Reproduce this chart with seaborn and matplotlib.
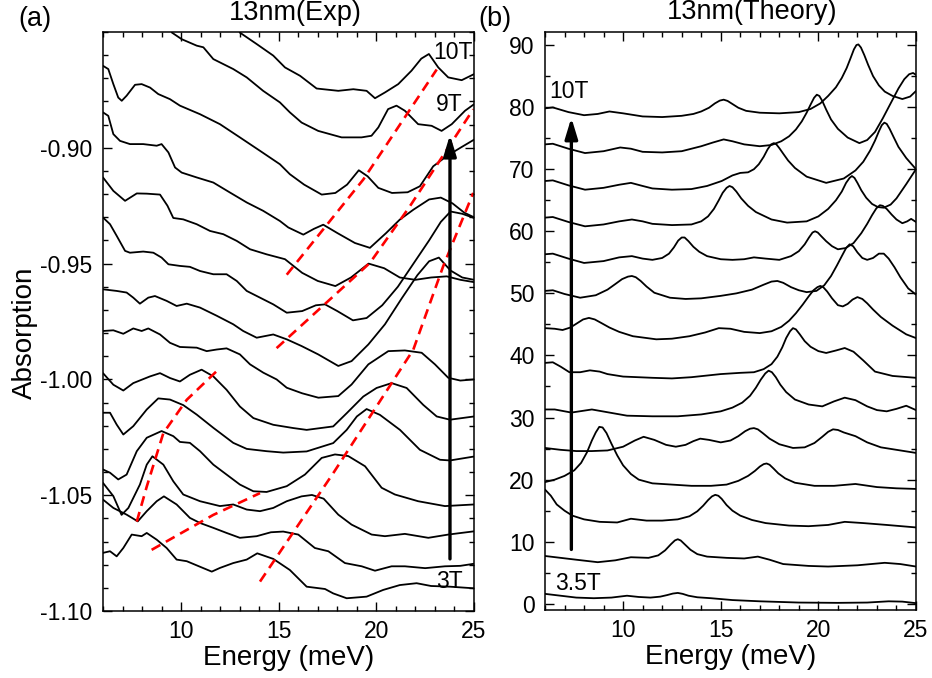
import matplotlib
matplotlib.use("Agg")
import matplotlib.pyplot as plt
import seaborn as sns
import pandas as pd
from matplotlib.ticker import MultipleLocator, FormatStrFormatter

sns.set_theme(style="ticks")
plt.rcParams['font.family'] = ['Liberation Sans', 'DejaVu Sans']
plt.rcParams['axes.unicode_minus'] = False
for k in ('text.color', 'axes.labelcolor', 'xtick.color', 'ytick.color', 'axes.edgecolor'):
    plt.rcParams[k] = 'black'

# ---------------- Panel (a): experimental absorption, (energy meV, absorption) ----------------
exp_3T = [(6.0, -1.0749), (6.36, -1.0742), (6.7, -1.0764), (7.04, -1.0728), (7.47, -1.067), (7.98, -1.0677),
          (8.24, -1.0663), (8.75, -1.0692), (9.26, -1.0728), (9.77, -1.0778), (10.29, -1.0785), (10.97, -1.0809),
          (11.57, -1.083), (11.99, -1.0814), (12.67, -1.0793), (13.36, -1.0778), (13.9, -1.0751), (14.72, -1.0775),
          (15.57, -1.0823), (16.43, -1.0895), (17.37, -1.0905), (17.79, -1.0924), (18.48, -1.0945), (19.5, -1.0938),
          (20.35, -1.0909), (21.2, -1.0888), (22.06, -1.088), (22.8, -1.0892), (23.77, -1.0895), (25.0, -1.0902)]
exp_3p5T = [(6.0, -1.0519), (6.53, -1.0555), (7.21, -1.0584), (7.78, -1.0613), (8.24, -1.0569), (8.75, -1.0526),
            (9.12, -1.0505), (9.77, -1.054), (10.45, -1.0598), (10.97, -1.062), (11.65, -1.0641), (12.33, -1.0663),
            (13.01, -1.0684), (13.87, -1.0677), (14.6, -1.066), (15.23, -1.0657), (16.0, -1.067), (16.85, -1.0728),
            (17.54, -1.0742), (18.39, -1.0793), (19.25, -1.0807), (19.93, -1.0826), (20.78, -1.0807),
            (21.46, -1.0807), (22.5, -1.0815), (23.51, -1.0807), (24.3, -1.0805), (25.0, -1.0796)]
exp_4T = [(6.0, -1.0447), (6.53, -1.0504), (6.95, -1.0585), (7.3, -1.0555), (7.89, -1.0454), (8.24, -1.0368),
          (8.53, -1.0332), (9.09, -1.0368), (9.6, -1.044), (10.11, -1.0497), (10.97, -1.0526), (11.99, -1.0547),
          (12.67, -1.054), (13.36, -1.0562), (14.04, -1.0569), (14.72, -1.0555), (15.41, -1.0526), (16.17, -1.0505),
          (16.7, -1.0499), (17.3, -1.0515), (18.05, -1.0584), (18.73, -1.0627), (19.76, -1.067), (20.44, -1.0677),
          (21.46, -1.0667), (22.66, -1.0684), (23.68, -1.067), (25.0, -1.0656)]
exp_4p5T = [(6.0, -1.0389), (6.36, -1.0403), (6.78, -1.0432), (7.21, -1.0411), (7.73, -1.031), (8.24, -1.0252),
            (9.0, -1.0223), (9.6, -1.0245), (9.94, -1.027), (10.45, -1.0274), (10.97, -1.031), (11.65, -1.0368),
            (12.33, -1.0411), (13.01, -1.0454), (13.7, -1.0483), (14.38, -1.0486), (15.41, -1.0461),
            (16.34, -1.0411), (17.2, -1.0339), (17.88, -1.0324), (18.56, -1.0331), (19.42, -1.0375),
            (20.27, -1.0468), (20.95, -1.0497), (22.14, -1.0526), (23.51, -1.0547), (25.0, -1.054)]
exp_5T = [(6.0, -1.0144), (6.36, -1.0144), (6.7, -1.0195), (7.04, -1.0238), (7.55, -1.0202), (8.24, -1.013),
          (8.83, -1.0082), (9.43, -1.0087), (10.11, -1.0111), (10.8, -1.0152), (11.65, -1.0209), (12.67, -1.0274),
          (13.36, -1.0300), (14.38, -1.031), (15.23, -1.0316), (16.43, -1.0311), (17.79, -1.0275),
          (18.48, -1.0218), (19.0, -1.0160), (19.5, -1.0128), (20.18, -1.0153), (21.21, -1.0218),
          (22.23, -1.0304), (23.26, -1.0347), (23.77, -1.035), (25.0, -1.0333)]
exp_5p5T = [(6.0, -0.9973), (6.53, -1.0023), (7.04, -1.0048), (7.55, -1.0016), (8.41, -0.9987), (8.92, -0.9973),
            (9.43, -0.9994), (9.94, -1.0009), (10.45, -0.998), (11.05, -0.9958), (11.65, -0.9987),
            (12.33, -1.0045), (13.01, -1.0117), (13.7, -1.0167), (14.72, -1.0196), (15.74, -1.021),
            (16.43, -1.0218), (17.79, -1.0203), (18.48, -1.0146), (19.33, -1.0074), (20.01, -1.0037),
            (20.78, -1.0016), (21.55, -1.0037), (22.4, -1.011), (23.09, -1.016), (23.77, -1.0174), (25.0, -1.016)]
exp_6T = [(6.0, -0.9791), (6.53, -0.9788), (7.04, -0.9803), (7.55, -0.978), (7.98, -0.9791), (8.32, -0.978),
          (8.92, -0.9806), (9.43, -0.9842), (9.94, -0.986), (10.8, -0.9863), (11.31, -0.9878), (11.82, -0.9871),
          (12.33, -0.9866), (13.01, -0.9892), (13.53, -0.9935), (14.21, -0.9971), (14.89, -1.0), (15.41, -1.0036),
          (16.2, -1.006), (17.03, -1.0079), (18.05, -1.0072), (18.73, -1.0022), (19.59, -0.9935),
          (20.61, -0.9878), (21.46, -0.9875), (22.32, -0.9885), (23.0, -0.9935), (23.68, -0.9993),
          (24.3, -1.0005), (25.0, -1.0)]
exp_6p5T = [(6.0, -0.9611), (6.7, -0.9618), (7.21, -0.9625), (7.55, -0.9647), (7.89, -0.9673), (8.32, -0.9647),
            (8.66, -0.964), (9.26, -0.9661), (9.77, -0.9683), (10.29, -0.9673), (10.97, -0.969), (11.82, -0.9725),
            (12.67, -0.9762), (13.18, -0.9791), (13.87, -0.982), (14.72, -0.9806), (15.41, -0.9827),
            (16.17, -0.9856), (17.02, -0.9892), (18.05, -0.9942), (18.73, -0.9921), (19.59, -0.9849),
            (20.44, -0.9762), (21.3, -0.9650), (22.1, -0.9550), (22.7, -0.9490), (23.2, -0.9474),
            (23.8, -0.9530), (24.4, -0.9560), (25.0, -0.9570)]
exp_7T = [(6.0, -0.9301), (6.36, -0.933), (6.7, -0.938), (7.13, -0.9445), (7.38, -0.9453), (8.06, -0.9448),
          (8.58, -0.9453), (9.0, -0.9474), (9.35, -0.9503), (9.94, -0.951), (10.45, -0.9514), (10.97, -0.9532),
          (11.65, -0.9546), (12.33, -0.9546), (12.85, -0.9575), (13.36, -0.9618), (14.04, -0.9647),
          (14.72, -0.9676), (15.41, -0.9712), (16.2, -0.9705), (16.9, -0.9680), (17.37, -0.9676),
          (18.0, -0.9705), (18.8, -0.9745), (19.5, -0.9735), (20.3, -0.9680), (21.1, -0.9600),
          (21.9, -0.9500), (22.7, -0.9400), (23.3, -0.9320), (23.8, -0.9275), (24.4, -0.9285),
          (25.0, -0.9303)]
exp_7p5T = [(6.0, -0.9128), (6.53, -0.9186), (7.13, -0.9229), (7.73, -0.9197), (8.24, -0.9198), (8.92, -0.9202),
            (9.3, -0.9250), (9.6, -0.9303), (10.11, -0.9309), (10.8, -0.933), (11.48, -0.9359), (12.16, -0.9373),
            (12.85, -0.9402), (13.53, -0.9438), (14.38, -0.946), (15.32, -0.9481), (16.2, -0.9540),
            (17.0, -0.9575), (17.9, -0.9597), (18.7, -0.9560), (19.6, -0.9500), (20.4, -0.9520),
            (21.2, -0.9560), (22.0, -0.9570), (22.8, -0.9560), (23.6, -0.9555), (24.3, -0.9570),
            (25.0, -0.9580)]
exp_8T = [(6.0, -0.8847), (6.27, -0.8862), (6.53, -0.8941), (6.87, -0.897), (7.38, -0.8984), (8.06, -0.8984),
          (8.75, -0.8991), (9.0, -0.8984), (9.35, -0.902), (9.69, -0.9085), (10.03, -0.9107), (10.8, -0.9128),
          (11.65, -0.915), (12.5, -0.9193), (13.36, -0.9236), (14.2, -0.9272), (15.06, -0.9316),
          (15.49, -0.9344), (16.26, -0.9375), (16.8, -0.9350), (17.28, -0.9332), (18.0, -0.9368),
          (18.9, -0.9411), (19.67, -0.9432), (20.5, -0.9368), (21.2, -0.9310), (21.9, -0.9267),
          (22.7, -0.9223), (23.3, -0.9215), (23.9, -0.9240), (24.5, -0.9280), (25.0, -0.9300)]
exp_8p5T = [(6.0, -0.8646), (6.27, -0.866), (6.53, -0.8725), (6.78, -0.8783), (6.96, -0.8797), (7.21, -0.8775),
            (7.64, -0.8728), (7.98, -0.8725), (8.41, -0.874), (8.83, -0.8768), (9.43, -0.879), (9.94, -0.8818),
            (10.97, -0.8855), (11.99, -0.8898), (13.01, -0.8955), (14.04, -0.9013), (15.06, -0.9071),
            (15.57, -0.9114), (16.3, -0.9159), (17.2, -0.9202), (17.9, -0.9195), (18.5, -0.9159),
            (19.1, -0.9097), (19.55, -0.9123), (20.1, -0.9173), (20.8, -0.9195), (21.6, -0.9192),
            (22.23, -0.9166), (22.91, -0.9080), (23.6, -0.9036), (24.3, -0.9000), (25.0, -0.8965)]
exp_9T = [(9.52, -0.8502), (10.03, -0.8531), (10.8, -0.8559), (11.14, -0.8566), (11.65, -0.8617),
          (12.67, -0.866), (13.36, -0.8696), (14.2, -0.8754), (15.06, -0.8804), (15.57, -0.8847),
          (16.17, -0.8891), (17.02, -0.8927), (18.22, -0.8955), (19.24, -0.8955), (19.75, -0.8948),
          (20.1, -0.8912), (20.6, -0.8833), (21.03, -0.8818), (21.46, -0.884), (22.14, -0.8898),
          (22.83, -0.8905), (23.34, -0.8927), (23.86, -0.8898), (24.54, -0.884), (25.0, -0.8812)]
exp_10T = [(13.0, -0.8502), (13.87, -0.8552), (14.72, -0.8602), (15.32, -0.8653), (16.09, -0.8689),
           (16.94, -0.8744), (18.05, -0.8754), (18.82, -0.8747), (19.5, -0.8754), (19.93, -0.8786),
           (20.44, -0.8761), (21.12, -0.8725), (21.8, -0.8667), (22.3, -0.8615), (22.69, -0.8595),
           (23.17, -0.8653), (23.68, -0.8696), (24.37, -0.8708), (25.0, -0.8682)]
exp_curves = [exp_3T, exp_3p5T, exp_4T, exp_4p5T, exp_5T, exp_5p5T, exp_6T, exp_6p5T,
              exp_7T, exp_7p5T, exp_8T, exp_8p5T, exp_9T, exp_10T]

# red dashed guide lines in panel (a)
guide_1 = [(15.41, -0.9548), (19.33, -0.9137), (23.09, -0.8662)]
guide_2 = [(14.89, -0.9865), (19.67, -0.9497), (21.72, -0.9252), (24.96, -0.8834)]
guide_3 = [(14.04, -1.0873), (17.79, -1.0405), (21.89, -0.9872), (23.42, -0.9512), (24.96, -0.9195)]
guide_4 = [(8.49, -1.0736), (11.65, -1.0585), (14.04, -1.0491)]
guide_5 = [(7.73, -1.0614), (8.24, -1.0463), (9.09, -1.0232), (10.29, -1.0088), (11.9, -0.9958)]
guides = [guide_1, guide_2, guide_3, guide_4, guide_5]

# ---------------- Panel (b): theory, energy (meV) and absorption (arb.) ----------------
th_3p5T_E = [6.0, 6.8, 7.6, 8.5, 9.4, 10.2, 10.8, 11.4, 11.9, 12.25, 12.55, 12.8, 13.05, 13.35, 13.8, 14.5,
             15.6, 17.0, 19.0, 21.0, 22.5, 23.6, 24.3, 25.0]
th_3p5T_V = [1.6, 1.3, 1.0, 0.9, 1.0, 1.3, 1.1, 1.0, 1.15, 1.4, 1.65, 1.75, 1.6, 1.3, 1.05, 0.9, 0.6, 0.4, 0.2,
             0.15, 0.2, 0.4, 0.35, 0.1]
th_4T_E = [6.0, 6.8, 7.6, 8.7, 9.6, 10.4, 11.3, 11.8, 12.15, 12.45, 12.65, 12.8, 12.95, 13.15, 13.45, 13.8,
           14.3, 15.3, 16.2, 16.9, 17.5, 18.2, 19.5, 20.5, 22.0, 23.4, 24.2, 25.0]
th_4T_V = [7.7, 7.4, 7.1, 6.7, 7.0, 7.5, 7.4, 7.8, 8.6, 9.6, 10.2, 10.4, 10.2, 9.6, 8.7, 8.0, 7.6, 7.4, 7.3,
           7.6, 7.1, 6.4, 6.1, 6.0, 6.2, 6.6, 6.4, 6.0]
th_4p5T_E = [6.0, 6.3, 6.6, 7.0, 7.4, 8.0, 8.8, 9.7, 10.4, 11.2, 12.0, 12.8, 13.4, 13.8, 14.1, 14.35, 14.55,
             14.72, 14.88, 15.05, 15.3, 15.6, 16.0, 16.6, 17.3, 18.5, 19.5, 20.5, 21.35, 22.3, 23.5, 25.0]
th_4p5T_V = [18.4, 17.4, 16.0, 15.0, 14.2, 13.6, 13.2, 13.1, 13.7, 13.4, 13.4, 13.6, 14.1, 14.9, 15.8, 16.7,
             17.3, 17.55, 17.4, 16.9, 15.9, 15.0, 14.2, 13.5, 13.0, 12.6, 12.5, 12.7, 13.2, 13.0, 12.7, 12.3]
th_5T_E = [6.0, 6.5, 7.0, 7.5, 7.85, 8.15, 8.4, 8.6, 8.78, 8.95, 9.15, 9.4, 9.7, 10.0, 10.4, 10.8, 11.5, 12.5,
           13.5, 14.5, 15.3, 15.9, 16.4, 16.75, 17.0, 17.2, 17.35, 17.5, 17.7, 17.95, 18.3, 18.8, 19.8, 20.8,
           21.9, 23.0, 24.0, 25.0]
th_5T_V = [19.6, 20.0, 20.6, 21.5, 22.7, 24.4, 26.3, 27.6, 28.5, 28.4, 27.5, 25.8, 23.9, 22.3, 20.9, 20.0,
           19.4, 19.2, 19.0, 19.0, 19.2, 19.8, 20.6, 21.4, 22.1, 22.5, 22.6, 22.4, 21.8, 21.0, 20.2, 19.5,
           19.0, 19.0, 19.3, 18.8, 18.6, 18.5]
th_5p5T_E = [6.0, 6.8, 7.6, 8.4, 9.2, 10.0, 10.6, 11.05, 11.6, 12.2, 12.7, 13.2, 13.6, 13.95, 14.4, 15.0, 15.5,
             15.9, 16.25, 16.5, 16.7, 16.9, 17.15, 17.5, 18.0, 18.7, 19.3, 19.8, 20.2, 20.5, 20.75, 21.0, 21.3,
             21.6, 21.9, 22.5, 23.2, 24.0, 25.0]
th_5p5T_V = [25.1, 24.8, 24.6, 24.6, 24.7, 25.3, 26.3, 26.9, 26.4, 25.6, 25.3, 25.6, 26.2, 26.6, 26.4, 26.0,
             26.3, 27.0, 27.8, 28.2, 28.3, 28.1, 27.5, 26.6, 25.7, 25.1, 25.2, 25.9, 26.9, 27.7, 28.1, 28.0,
             27.6, 27.3, 27.0, 26.0, 25.2, 24.8, 24.3]
th_6T_E = [6.0, 6.5, 7.35, 8.4, 9.3, 10.2, 11.5, 12.8, 14.0, 15.0, 15.6, 16.1, 16.5, 16.8, 17.05, 17.28, 17.45,
           17.62, 17.82, 18.05, 18.35, 18.8, 19.5, 20.2, 20.8, 21.35, 21.9, 22.5, 23.0, 23.5, 24.0, 24.5, 25.0]
th_6T_V = [31.3, 31.3, 30.8, 31.3, 30.8, 30.3, 30.2, 30.2, 30.5, 31.0, 31.6, 32.4, 33.5, 34.8, 36.1, 37.1,
           37.55, 37.3, 36.5, 35.3, 34.1, 32.9, 32.1, 31.8, 32.6, 33.2, 32.8, 31.8, 31.2, 31.0, 31.4, 31.9, 31.2]
th_6p5T_E = [6.0, 6.4, 6.8, 7.25, 7.8, 8.3, 8.8, 9.2, 10.0, 11.5, 12.5, 13.5, 15.0, 16.0, 16.7, 17.2, 17.6,
             17.9, 18.15, 18.35, 18.55, 18.7, 18.85, 19.05, 19.3, 19.6, 20.0, 20.4, 20.9, 21.35, 21.8, 22.3,
             22.9, 23.8, 25.0]
th_6p5T_V = [38.8, 38.9, 38.2, 37.3, 37.3, 37.6, 37.4, 37.0, 36.6, 36.4, 36.3, 36.5, 37.0, 37.2, 37.3, 37.8,
             38.6, 39.8, 41.3, 42.8, 43.9, 44.4, 44.2, 43.4, 42.3, 41.4, 40.7, 40.4, 40.8, 41.2, 40.6, 39.2,
             37.4, 36.7, 36.4]
th_7T_E = [6.0, 6.5, 6.9, 7.3, 7.65, 7.95, 8.25, 8.55, 8.9, 9.3, 9.8, 10.5, 11.7, 12.5, 13.4, 14.2, 14.9, 15.5,
           16.2, 17.0, 17.6, 18.1, 18.5, 18.85, 19.2, 19.5, 19.75, 19.95, 20.1, 20.25, 20.45, 20.7, 21.0, 21.25,
           21.5, 21.75, 22.0, 22.25, 22.5, 22.8, 23.2, 23.8, 24.5, 25.0]
th_7T_V = [44.4, 44.3, 44.1, 44.5, 45.2, 45.8, 46.05, 45.8, 45.2, 44.5, 43.8, 43.1, 42.6, 42.7, 43.1, 43.7,
           44.4, 44.3, 43.8, 43.6, 43.9, 44.6, 45.6, 46.8, 48.2, 49.5, 50.5, 51.0, 51.2, 51.0, 50.3, 49.2,
           48.1, 47.9, 48.3, 49.0, 49.4, 49.1, 48.4, 47.4, 46.2, 44.8, 43.4, 42.8]
th_7p5T_E = [6.0, 6.4, 7.0, 7.8, 8.6, 9.2, 9.6, 9.95, 10.25, 10.45, 10.65, 10.9, 11.2, 11.6, 12.4, 13.2, 14.0,
             15.0, 15.8, 16.6, 17.2, 17.6, 17.9, 18.2, 18.6, 19.0, 19.4, 19.9, 20.3, 20.65, 20.95, 21.2, 21.42,
             21.6, 21.78, 22.0, 22.25, 22.5, 22.8, 23.1, 23.35, 23.6, 23.9, 24.2, 24.6, 25.0]
th_7p5T_V = [50.4, 50.5, 49.9, 49.3, 49.7, 50.6, 51.5, 52.3, 52.7, 52.8, 52.6, 52.0, 51.1, 50.1, 49.3, 49.1,
             49.2, 49.6, 50.0, 50.6, 51.4, 51.9, 52.0, 51.7, 51.0, 50.5, 50.2, 50.4, 51.3, 52.8, 54.5, 56.0,
             57.3, 57.9, 57.6, 56.6, 55.7, 55.4, 55.7, 56.4, 56.4, 55.6, 54.2, 52.6, 50.8, 49.8]
th_8T_E = [6.0, 6.4, 7.2, 8.0, 9.0, 9.8, 10.45, 11.0, 11.5, 12.0, 12.35, 12.6, 12.82, 13.0, 13.15, 13.35, 13.6,
           13.9, 14.3, 15.0, 15.6, 16.2, 16.7, 17.3, 18.0, 18.6, 19.0, 19.3, 19.52, 19.7, 19.83, 19.97, 20.15,
           20.4, 20.7, 21.0, 21.4, 21.8, 22.2, 22.5, 22.75, 22.97, 23.15, 23.3, 23.5, 23.75, 24.0, 24.3, 24.55,
           24.75, 25.0]
th_8T_V = [56.3, 56.4, 55.6, 54.9, 55.2, 55.8, 56.0, 55.6, 55.4, 55.7, 56.4, 57.4, 58.5, 59.0, 59.0, 58.4,
           57.5, 56.7, 56.0, 55.5, 55.4, 55.5, 55.8, 55.6, 55.4, 56.0, 56.8, 57.9, 59.0, 59.8, 60.0, 59.8,
           59.2, 58.4, 57.6, 57.1, 57.3, 58.1, 59.7, 61.2, 62.6, 63.7, 64.2, 64.1, 63.6, 62.7, 61.9, 61.3,
           61.6, 62.0, 61.5]
th_8p5T_E = [6.0, 6.4, 7.2, 8.05, 9.0, 9.8, 10.45, 11.0, 11.5, 12.5, 13.5, 14.0, 14.35, 14.65, 14.9, 15.1,
             15.3, 15.45, 15.6, 15.8, 16.05, 16.4, 16.8, 17.6, 18.4, 19.4, 20.0, 20.5, 20.9, 21.2, 21.42, 21.6,
             21.72, 21.85, 22.0, 22.2, 22.45, 22.75, 23.05, 23.35, 23.7, 24.0, 24.5, 25.0]
th_8p5T_V = [62.2, 62.3, 61.5, 60.8, 61.1, 61.6, 61.9, 61.6, 61.2, 61.0, 61.1, 61.6, 62.4, 63.6, 65.0, 66.2,
             67.0, 67.3, 67.1, 66.4, 65.3, 64.1, 63.1, 61.9, 61.4, 61.6, 62.4, 63.6, 65.0, 66.4, 67.8, 68.6,
             68.9, 68.6, 67.8, 66.6, 65.4, 64.4, 63.9, 63.8, 64.3, 65.3, 67.6, 70.0]
th_9T_E = [6.0, 6.4, 7.2, 8.05, 9.0, 9.8, 10.4, 11.0, 11.5, 12.5, 13.5, 14.3, 15.05, 15.6, 16.0, 16.4, 16.7,
           16.95, 17.2, 17.4, 17.58, 17.72, 17.85, 18.0, 18.2, 18.45, 18.8, 19.4, 20.4, 21.3, 21.9, 22.3, 22.65,
           22.9, 23.1, 23.25, 23.38, 23.5, 23.65, 23.85, 24.1, 24.5, 25.0]
th_9T_V = [68.1, 68.2, 67.4, 66.7, 67.0, 67.5, 67.8, 67.3, 66.9, 66.7, 66.8, 67.3, 68.1, 69.0, 69.4, 69.5,
           70.0, 70.8, 72.0, 73.2, 74.0, 74.2, 74.0, 73.4, 72.5, 71.4, 70.2, 68.8, 67.8, 68.5, 69.8, 71.2,
           73.0, 74.6, 76.1, 77.1, 77.5, 77.3, 76.5, 75.2, 73.6, 71.8, 70.0]
th_9p5T_E = [6.0, 6.4, 7.2, 8.05, 9.0, 9.85, 10.4, 11.0, 12.0, 13.0, 14.0, 14.6, 15.15, 15.6, 16.2, 17.0,
             17.6, 18.1, 18.5, 18.85, 19.15, 19.4, 19.6, 19.78, 19.92, 20.05, 20.2, 20.4, 20.65, 21.0, 21.5,
             22.1, 22.5, 22.9, 23.3, 23.7, 24.1, 24.4, 24.65, 24.85, 25.0]
th_9p5T_V = [74.0, 74.1, 73.3, 72.6, 72.9, 73.5, 73.3, 72.8, 72.7, 72.9, 73.7, 74.3, 74.8, 74.5, 74.0, 73.7,
             73.9, 74.5, 75.3, 76.4, 77.7, 79.1, 80.4, 81.5, 82.0, 81.8, 81.0, 79.6, 78.0, 76.5, 75.1, 74.2,
             74.7, 76.0, 78.2, 80.6, 83.0, 84.5, 85.3, 85.5, 85.2]
th_10T_E = [6.0, 6.4, 7.2, 8.0, 8.7, 9.3, 10.0, 11.0, 12.0, 13.0, 13.6, 14.0, 14.4, 14.7, 14.95, 15.15, 15.35,
            15.6, 15.9, 16.3, 17.0, 18.0, 19.0, 19.6, 20.1, 20.5, 20.9, 21.2, 21.45, 21.65, 21.82, 21.95, 22.05,
            22.18, 22.35, 22.55, 22.8, 23.1, 23.4, 23.8, 24.3, 24.7, 25.0]
th_10T_V = [79.8, 79.95, 79.2, 78.7, 78.9, 79.3, 79.0, 78.5, 78.4, 78.6, 78.9, 79.3, 79.9, 80.6, 81.05, 81.2,
            81.0, 80.5, 79.9, 79.4, 79.1, 79.0, 79.2, 79.7, 80.6, 81.8, 83.2, 84.7, 86.3, 87.9, 89.3, 90.0,
            90.1, 89.6, 88.4, 86.8, 85.0, 83.5, 82.5, 81.8, 81.3, 81.7, 82.6]
th_fields = ['3.5T', '4T', '4.5T', '5T', '5.5T', '6T', '6.5T', '7T', '7.5T', '8T', '8.5T', '9T', '9.5T', '10T']
th_E = [th_3p5T_E, th_4T_E, th_4p5T_E, th_5T_E, th_5p5T_E, th_6T_E, th_6p5T_E, th_7T_E, th_7p5T_E,
        th_8T_E, th_8p5T_E, th_9T_E, th_9p5T_E, th_10T_E]
th_V = [th_3p5T_V, th_4T_V, th_4p5T_V, th_5T_V, th_5p5T_V, th_6T_V, th_6p5T_V, th_7T_V, th_7p5T_V,
        th_8T_V, th_8p5T_V, th_9T_V, th_9p5T_V, th_10T_V]

# ---------------- build tidy tables ----------------
rows = []
for i, c in enumerate(exp_curves):
    for k, (e, a) in enumerate(c):
        rows.append({'curve': i, 'order': k, 'E': e, 'A': a})
df_exp = pd.DataFrame(rows)
rows = []
for i, c in enumerate(guides):
    for k, (e, a) in enumerate(c):
        rows.append({'curve': i, 'order': k, 'E': e, 'A': a})
df_guide = pd.DataFrame(rows)
rows = []
for i, (es, vs) in enumerate(zip(th_E, th_V)):
    for k, (e, v) in enumerate(zip(es, vs)):
        rows.append({'curve': th_fields[i], 'order': k, 'E': e, 'V': v})
df_th = pd.DataFrame(rows)

fig = plt.figure(figsize=(9.32, 6.78), dpi=100)
W, H = 932.0, 678.0
ax_a = fig.add_axes([103 / W, 1 - 611 / H, (474 - 103) / W, (611 - 32) / H])
ax_b = fig.add_axes([545 / W, 1 - 610 / H, (916 - 545) / W, (610 - 32) / H])

LW = 1.3
sns.lineplot(data=df_exp, x='E', y='A', units='curve', estimator=None, sort=False,
             color='black', lw=LW, ax=ax_a, legend=False)
sns.lineplot(data=df_guide, x='E', y='A', units='curve', estimator=None, sort=False,
             color='#ff0000', lw=1.9, ax=ax_a, legend=False)
for ln in ax_a.lines[len(exp_curves):]:
    ln.set_dashes((3.8, 2.4))
sns.lineplot(data=df_th, x='E', y='V', units='curve', estimator=None, sort=False,
             color='black', lw=LW, ax=ax_b, legend=False)
for ax in (ax_a, ax_b):
    for ln in ax.lines:
        ln.set_solid_joinstyle('round')

for ax in (ax_a, ax_b):
    ax.set_xlim(6, 25)
    ax.set_xticks([10, 15, 20, 25])
    ax.xaxis.set_minor_locator(MultipleLocator(1))
    ax.tick_params(which='both', direction='in', top=True, right=True, colors='black',
                   labelsize=16.5, width=1.0)
    ax.tick_params(which='major', length=6.5)
    ax.tick_params(axis='x', which='major', pad=6.5)
    ax.tick_params(axis='y', which='major', pad=7.5)
    ax.tick_params(which='minor', length=3.5)
    for s in ax.spines.values():
        s.set_color('black')
        s.set_linewidth(1.1)
    ax.set_xlabel('Energy (meV)', fontsize=20, va='top')
    ax.xaxis.set_label_coords(0.5, -0.058)
    ax.set_facecolor('white')

ax_a.set_ylim(-1.10, -0.85)
ax_a.set_yticks([-1.10, -1.05, -1.00, -0.95, -0.90])
ax_a.yaxis.set_minor_locator(MultipleLocator(0.01))
ax_a.yaxis.set_major_formatter(FormatStrFormatter('%.2f'))
ax_a.set_ylabel('Absorption', fontsize=20, va='center')
ax_a.yaxis.set_label_coords(-0.21, 0.48)

ax_b.set_ylim(-1.0, 92.1)
ax_b.yaxis.set_major_locator(MultipleLocator(10))
ax_b.yaxis.set_minor_locator(MultipleLocator(5))
ax_b.set_ylabel('')

# arrows
arrow_a_E = 23.77
arrow_a_span = (-1.0775, -0.8944)
arrow_b_E = 7.35
arrow_b_span = (8.75, 78.3)
ap = dict(arrowstyle='-|>,head_length=1.25,head_width=0.38', lw=2.4, color='black',
          shrinkA=0, shrinkB=0, mutation_scale=10)
ax_a.annotate('', xy=(arrow_a_E, arrow_a_span[1]), xytext=(arrow_a_E, arrow_a_span[0]), arrowprops=ap)
ax_b.annotate('', xy=(arrow_b_E, arrow_b_span[1]), xytext=(arrow_b_E, arrow_b_span[0]), arrowprops=ap)

# field labels
ax_a.text(24.95, -0.8618, '10T', fontsize=16.5, ha='right', va='baseline')
ax_a.text(24.43, -0.8843, '9T', fontsize=16.5, ha='right', va='baseline')
ax_a.text(24.43, -1.0901, '3T', fontsize=16.5, ha='right', va='baseline')
ax_b.text(6.2, 81.5, '10T', fontsize=16.5, ha='left', va='baseline')
ax_b.text(6.5, 2.25, '3.5T', fontsize=16.5, ha='left', va='baseline')

# titles and panel letters
fig.text(295 / W, 1 - 20 / H, '13nm(Exp)', fontsize=19.5, ha='center', va='baseline')
fig.text(752 / W, 1 - 19 / H, '13nm(Theory)', fontsize=19.5, ha='center', va='baseline')
fig.text(35 / W, 1 - 26 / H, '(a)', fontsize=19.5, ha='center', va='baseline')
fig.text(495 / W, 1 - 26 / H, '(b)', fontsize=19.5, ha='center', va='baseline')

fig.savefig('out.png', dpi=100, facecolor='white')
